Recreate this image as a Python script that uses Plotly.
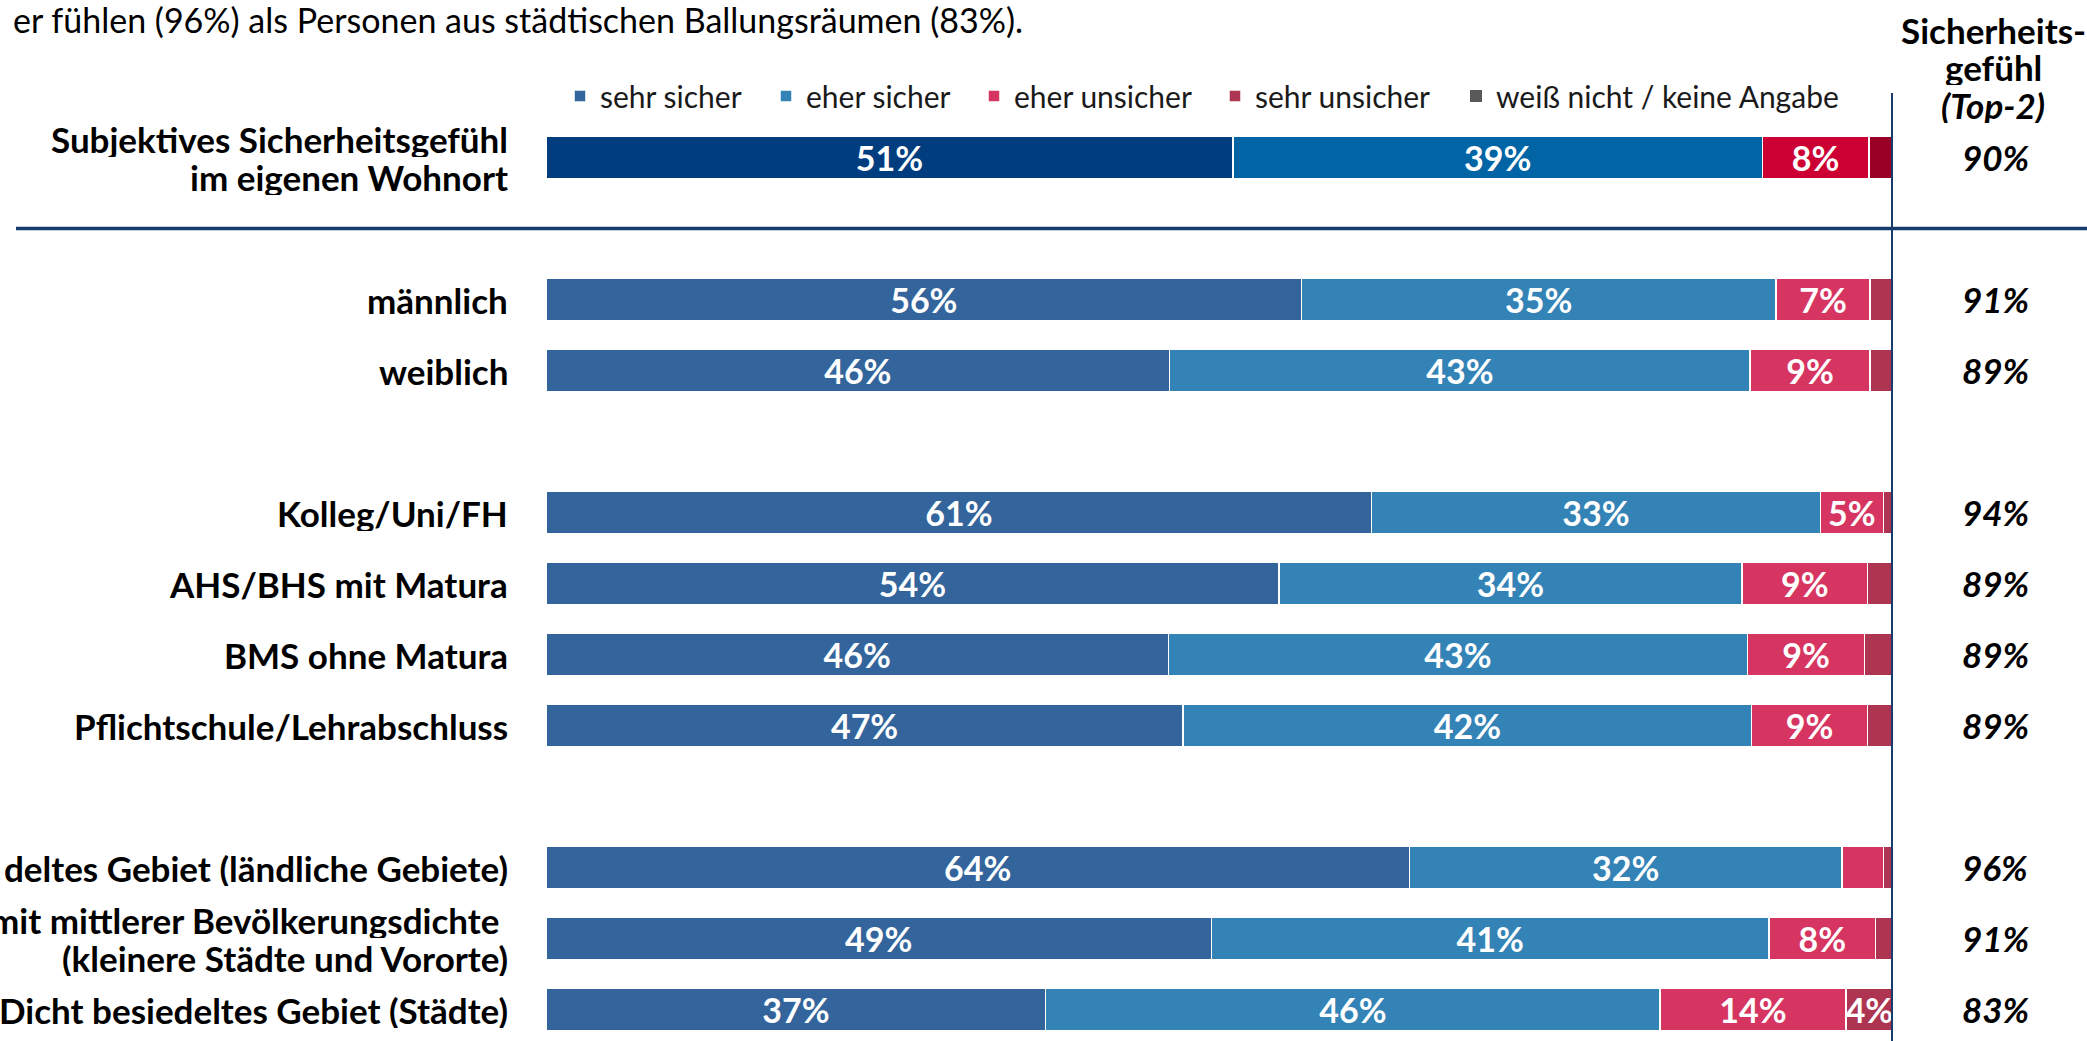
import plotly.graph_objects as go

# rows top to bottom, with their slot on the y axis (gaps between groups)
rows = [
    "Subjektives Sicherheitsgefühl<br>im eigenen Wohnort",
    "männlich",
    "weiblich",
    "Kolleg/Uni/FH",
    "AHS/BHS mit Matura",
    "BMS ohne Matura",
    "Pflichtschule/Lehrabschluss",
    "deltes Gebiet (ländliche Gebiete)",
    "mit mittlerer Bevölkerungsdichte <br>(kleinere Städte und Vororte)",
    "Dicht besiedeltes Gebiet (Städte)",
]
slots = [0, 2, 3, 5, 6, 7, 8, 10, 11, 12]

series = ["sehr sicher", "eher sicher", "eher unsicher", "sehr unsicher", "weiß nicht / keine Angabe"]
sehr_sicher = [51.0, 56.1, 46.3, 61.3, 54.4, 46.2, 47.3, 64.1, 49.4, 37.1]
eher_sicher = [39.3, 35.2, 43.1, 33.3, 34.4, 43.0, 42.2, 32.1, 41.4, 45.6]
eher_unsicher = [7.9, 7.0, 8.9, 4.7, 9.3, 8.7, 8.6, 3.1, 7.9, 13.8]
sehr_unsicher = [1.8, 1.7, 1.7, 0.7, 1.9, 2.1, 1.9, 0.7, 1.3, 3.5]
weiss_nicht = [0, 0, 0, 0, 0, 0, 0, 0, 0, 0]
top2 = [90, 91, 89, 94, 89, 89, 89, 96, 91, 83]

colors = ["#33659C", "#3383B6", "#D63561", "#AD3552", "#595959"]
colors_total = ["#003D7F", "#0064A5", "#CC0033", "#990026", "#404040"]

FONT = "Lato"
NAVY = "#173B6C"

fig = go.Figure()

all_values = [sehr_sicher, eher_sicher, eher_unsicher, sehr_unsicher, weiss_nicht]
legend_names = ["legend", "legend2", "legend3", "legend4", "legend5"]

for i, name in enumerate(series):
    vals = all_values[i]
    labels = [f"{v:.0f}%" if v >= 3.5 else "" for v in vals]
    lw = 1.5 if i < 4 else 0
    # total row (darker colours, no legend entry)
    fig.add_trace(go.Bar(
        y=slots[:1], x=vals[:1], orientation="h", name=name,
        marker=dict(color=colors_total[i], line=dict(color="white", width=lw)),
        text=labels[:1], textposition="inside", insidetextanchor="middle",
        textfont=dict(family=FONT, size=34, color="white", weight="bold"),
        constraintext="none", width=0.6, showlegend=False, hoverinfo="skip",
    ))
    # breakdown rows
    fig.add_trace(go.Bar(
        y=slots[1:], x=vals[1:], orientation="h", name=name,
        marker=dict(color=colors[i], line=dict(color="white", width=lw)),
        text=labels[1:], textposition="inside", insidetextanchor="middle",
        textfont=dict(family=FONT, size=34, color="white", weight="bold"),
        constraintext="none", width=0.6, legend=legend_names[i],
    ))

# row labels, one annotation per line to keep the tight line spacing
LINE = 38
for row, s in zip(rows, slots):
    lines = row.split("<br>")
    n = len(lines)
    for k, ln in enumerate(lines):
        fig.add_annotation(
            x=0, xref="paper", xshift=-36, xanchor="right", y=s, yref="y",
            yshift=((n - 1) / 2 - k) * LINE, height=LINE - 1,
            text=ln, showarrow=False,
            font=dict(family=FONT, size=35, color="black", weight="bold"),
        )

# top-2 column
for v, s in zip(top2, slots):
    fig.add_annotation(
        x=1, xref="paper", xshift=102, xanchor="center", y=s, yref="y",
        text=f"{v}%", showarrow=False,
        font=dict(family=FONT, size=35, color="black", weight="bold", style="italic"),
    )

header = [("Sicherheits-", 30, "normal"), ("gefühl", 67, "normal"), ("(Top-2)", 105, "italic")]
for txt, py, st in header:
    fig.add_annotation(
        x=1, xref="paper", xshift=100, xanchor="center", y=1 - py / 1041, yref="paper",
        yanchor="middle", height=36, text=txt, showarrow=False,
        font=dict(family=FONT, size=35, color="black", weight="bold", style=st),
    )

fig.add_annotation(
    x=(1025 - 546) / 1347, xref="paper", xanchor="right", y=1 - 19 / 1041, yref="paper",
    yanchor="middle", text="er fühlen (96%) als Personen aus städtischen Ballungsräumen (83%).",
    showarrow=False, font=dict(family=FONT, size=34, color="black"),
)

fig.add_shape(type="line", xref="paper", x0=(16 - 546) / 1347, x1=(2087 - 546) / 1347,
              yref="y", y0=1, y1=1, line=dict(color=NAVY, width=3.5))
fig.add_shape(type="line", xref="x", x0=100, x1=100, yref="paper", y0=0, y1=1 - 93 / 1041,
              line=dict(color=NAVY, width=4))

legend_x = [560, 766, 974, 1215, 1456]
legend_layout = {}
for name, px in zip(legend_names, legend_x):
    legend_layout[name] = dict(
        x=(px - 546) / 1347, xanchor="left", y=1 - 96 / 1041, yanchor="middle",
        orientation="h", bgcolor="rgba(0,0,0,0)", borderwidth=0,
        font=dict(family=FONT, size=30, color="#1a1a1a"),
    )

fig.update_layout(
    width=2087, height=1041,
    margin=dict(l=546, r=194, t=0, b=0),
    barmode="stack",
    plot_bgcolor="white", paper_bgcolor="white",
    xaxis=dict(range=[0, 100], visible=False, fixedrange=True),
    yaxis=dict(range=[12.444, -2.218], visible=False, fixedrange=True),
    uniformtext=dict(minsize=34, mode="show"),
    font=dict(family=FONT),
    **legend_layout,
)

fig.write_html("out.html", config={"displayModeBar": False},
               post_script="document.body.style.margin='0';")
